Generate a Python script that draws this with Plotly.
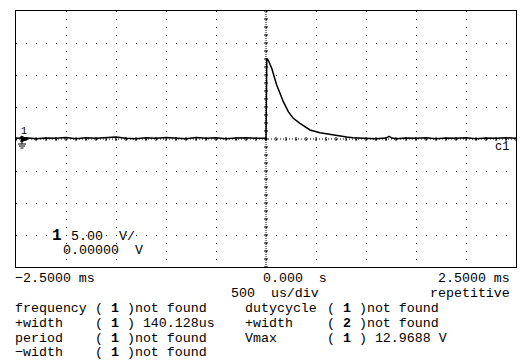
import plotly.graph_objects as go

# ---------------- data ----------------
# pre-trigger baseline, time in microseconds
pre_t_us = [-2500, -2400, -2300, -2200, -2100, -2000, -1900, -1800, -1700, -1600,
            -1500, -1400, -1300, -1200, -1100, -1000, -900, -800, -700, -600,
            -500, -400, -300, -200, -100, -10]
pre_v = [0.10, 0.20, 0.05, 0.15, 0.10, 0.25, 0.05, 0.20, 0.10, 0.15,
         0.30, 0.10, 0.05, 0.20, 0.10, 0.25, 0.15, 0.05, 0.25, 0.10,
         0.20, 0.05, 0.15, 0.20, 0.10, 0.10]
# pulse and decay
pulse_t_us = [0, 8, 23, 57, 80, 107, 140, 173, 223, 273, 340, 440, 540, 633,
              707, 807, 870, 950]
pulse_v = [0.10, 12.6, 12.3, 11.05, 9.73, 8.44, 7.14, 5.83, 4.27, 3.23, 2.45,
           1.41, 0.98, 0.73, 0.47, 0.31, 0.20, 0.12]
# post-pulse baseline
post_t_us = [1000, 1100, 1200, 1230, 1260, 1300, 1400, 1500, 1600, 1700, 1800,
             1900, 2000, 2100, 2200, 2300, 2400, 2500]
post_v = [0.10, 0.05, 0.15, 0.40, 0.15, 0.05, 0.15, 0.10, 0.20, 0.05, 0.15,
          0.10, 0.20, 0.05, 0.15, 0.10, 0.20, 0.10]

time_ms = [t / 1000.0 for t in pre_t_us + pulse_t_us + post_t_us]
volts = pre_v + pulse_v + post_v

x_range = [-2.5, 2.5]     # ms, 500 us/div
y_range = [-20, 20]       # V, 5.00 V/div

bottom_rows = [
    ("−2.5000 ms", "0.000  s", "2.5000 ms"),
    ("500  us/div", "repetitive"),
]
meas_names_left = ["frequency", "+width", "period", "−width"]
meas_vals_left = ["( <b>1</b> )not found", "( <b>1</b> ) 140.128us",
                  "( <b>1</b> )not found", "( <b>1</b> )not found"]
meas_names_right = ["dutycycle", "+width", "Vmax"]
meas_vals_right = ["( <b>1</b> )not found", "( <b>2</b> )not found",
                   "( <b>1</b> ) 12.9688 V"]

# ---------------- layout geometry ----------------
W, H = 520, 360
L, T, PW, PH = 16, 11, 500, 256
FONT = "Liberation Mono"
FS = 13.3


def px(x):
    return (x - L) / PW


def py(y):
    return (T + PH - y) / PH


fig = go.Figure()
fig.add_trace(go.Scatter(x=time_ms, y=volts, mode="lines",
                         line=dict(color="black", width=1.5),
                         hoverinfo="skip", showlegend=False))

shapes = []
# dense dotted centre lines
shapes.append(dict(type="line", xref="x", yref="paper", x0=0, x1=0, y0=0, y1=1,
                   line=dict(color="black", width=1, dash="1px,1px")))
shapes.append(dict(type="line", xref="paper", yref="y", x0=0, x1=1, y0=0, y1=0,
                   line=dict(color="black", width=1, dash="1px,2px")))
# minor ticks on centre lines
v = y_range[0]
while v <= y_range[1] + 1e-9:
    shapes.append(dict(type="line", xref="x", yref="y", xsizemode="pixel", xanchor=0,
                       x0=-2, x1=2, y0=v, y1=v, line=dict(color="black", width=1)))
    v += 1.25
t = x_range[0]
while t <= x_range[1] + 1e-9:
    shapes.append(dict(type="line", xref="x", yref="y", ysizemode="pixel", yanchor=0,
                       x0=t, x1=t, y0=-2, y1=2, line=dict(color="black", width=1)))
    t += 0.1
# ground reference marker (arrow + ground symbol)
shapes.append(dict(type="path", xref="paper", yref="paper",
                   path=f"M{px(21)},{py(136)} L{px(28)},{py(139)} L{px(21)},{py(142)} Z",
                   fillcolor="black", line=dict(color="black", width=1)))
shapes.append(dict(type="line", xref="paper", yref="paper", x0=px(22), x1=px(22),
                   y0=py(139), y1=py(144), line=dict(color="black", width=1)))
for yy, hw in [(144, 4), (146, 3), (148, 1.5)]:
    shapes.append(dict(type="line", xref="paper", yref="paper", x0=px(22 - hw), x1=px(22 + hw),
                       y0=py(yy), y1=py(yy), line=dict(color="black", width=1)))

ann = []


def text(x, y, s, anchor="left", size=FS):
    ann.append(dict(x=px(x), y=py(y), xref="paper", yref="paper", text=s,
                    showarrow=False, xanchor=anchor, yanchor="middle",
                    font=dict(family=FONT, size=size, color="black"),
                    borderpad=0))


# in-graticule labels
text(20, 131, "1", size=10)
text(51, 236, "<b>1</b>", size=16)
text(70, 236, "5.00")
text(118, 236, "V/")
text(62, 250, "0.00000")
text(134, 250, "V")
text(510, 147, "c1", anchor="right", size=12)

# bottom annotation rows
text(14, 278, bottom_rows[0][0])
text(262, 278, bottom_rows[0][1])
text(511, 278, bottom_rows[0][2], anchor="right")
text(230, 293, bottom_rows[1][0])
text(511, 293, bottom_rows[1][1], anchor="right")

row_y = [308, 323, 338, 352]
for i, (n, v) in enumerate(zip(meas_names_left, meas_vals_left)):
    text(14, row_y[i], n)
    text(94, row_y[i], v)
for i, (n, v) in enumerate(zip(meas_names_right, meas_vals_right)):
    text(244, row_y[i], n)
    text(326, row_y[i], v)

fig.update_layout(
    width=W, height=H,
    margin=dict(l=L, r=W - L - PW, t=T, b=H - T - PH, pad=0),
    paper_bgcolor="white", plot_bgcolor="white",
    shapes=shapes, annotations=ann,
    xaxis=dict(range=x_range, dtick=0.5, tick0=0, showticklabels=False, ticks="",
               showgrid=True, gridcolor="black", gridwidth=1, griddash="1px,7px",
               zeroline=False, showline=True, linecolor="black", linewidth=1, mirror=True,
               fixedrange=True),
    yaxis=dict(range=y_range, dtick=5, tick0=0, showticklabels=False, ticks="",
               showgrid=True, gridcolor="black", gridwidth=1, griddash="1px,9px",
               zeroline=False, showline=True, linecolor="black", linewidth=1, mirror=True,
               fixedrange=True),
)

fig.write_html("out.html", config={"displayModeBar": False},
               post_script="document.body.style.margin='0';document.body.style.overflow='hidden';")
